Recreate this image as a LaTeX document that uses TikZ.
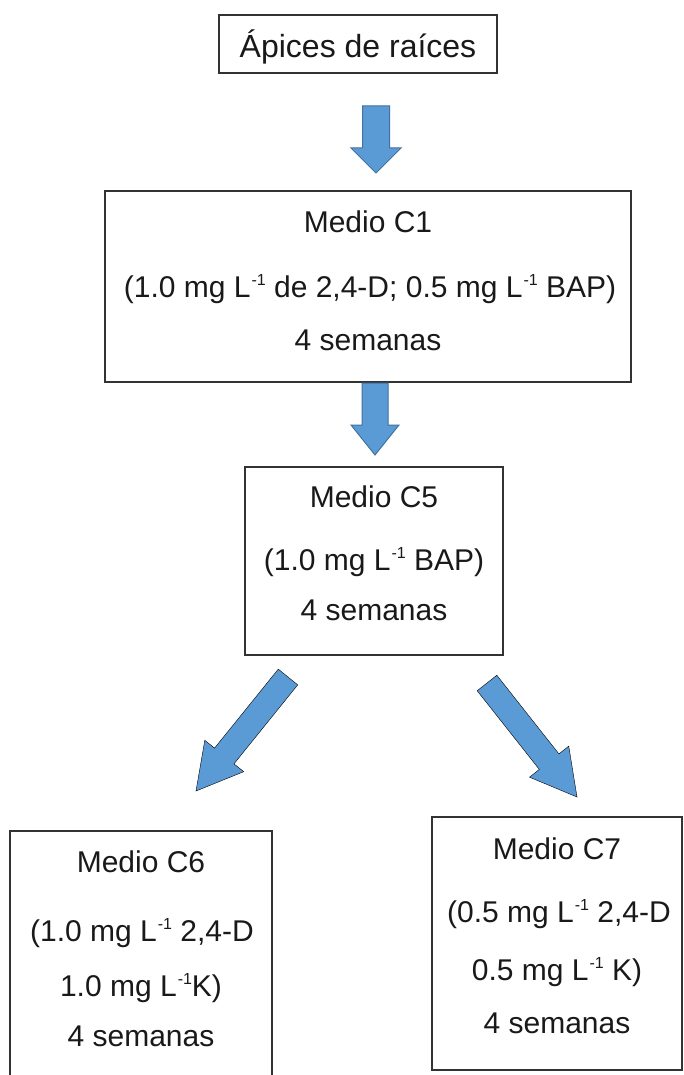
\documentclass[tikz,border=0pt]{standalone}
\usepackage{fontspec}
\setmainfont{Liberation Sans}
\usetikzlibrary{calc}
\definecolor{arrowblue}{HTML}{5B9BD5}
\definecolor{arrowedge}{HTML}{41719C}
\definecolor{boxline}{HTML}{333333}
\newcommand{\sups}[1]{\kern1pt\raisebox{12pt}{\fontsize{16}{16}\selectfont #1}}
\newcommand{\blockarrow}[6]{%
  \coordinate (#2-#3-h) at ($(#3)!#6!(#2)$);
  \draw[#1] ($(#2)!#4!90:(#3)$) -- ($(#2-#3-h)!#4!90:(#3)$) -- ($(#2-#3-h)!#5!90:(#3)$) -- (#3) -- ($(#2-#3-h)!#5!-90:(#3)$) -- ($(#2-#3-h)!#4!-90:(#3)$) -- ($(#2)!#4!-90:(#3)$) -- cycle;
}
\tikzset{
  box/.style={draw=boxline, line width=1.8pt, fill=white, inner sep=0pt, rectangle},
  lbl/.style={font=\fontsize{30}{36}\selectfont, text=black!90, inner sep=0pt, anchor=base},
  blk/.style={fill=arrowblue},
  blkedge/.style={fill=arrowblue, draw=arrowedge, line width=1pt, line join=miter},
}
\begin{document}
\begin{tikzpicture}[x=1pt,y=-1pt]
\clip (0,0) rectangle (683,1075);
\useasboundingbox (0,0) rectangle (683,1075);
\fill[white] (0,0) rectangle (683,1075);
% boxes
\node[box, minimum width=278pt, minimum height=58pt] (top) at (358,44) {};
\node[box, minimum width=526pt, minimum height=191pt] (c1) at (368,286.5) {};
\node[box, minimum width=258pt, minimum height=188pt] (c5) at (374,561) {};
\node[box, minimum width=262pt, minimum height=259pt] (c6) at (141,960.5) {};
\node[box, minimum width=250pt, minimum height=253pt] (c7) at (557,943.5) {};
% texts
\node[lbl, font=\fontsize{32}{36}\selectfont] (t0) at (358,58) {Ápices de raíces};
\node[lbl] (t1a) at (368,233) {Medio C1};
\node[lbl] (t1b) at (370,297) {(1.0 mg L\sups{-1} de 2,4-D; 0.5 mg L\sups{-1} BAP)};
\node[lbl] (t1c) at (368,350) {4 semanas};
\node[lbl] (t5a) at (374,507) {Medio C5};
\node[lbl] (t5b) at (374,570) {(1.0 mg L\sups{-1} BAP)};
\node[lbl] (t5c) at (374,620) {4 semanas};
\node[lbl] (t6a) at (141,872) {Medio C6};
\node[lbl] (t6b) at (142,941) {(1.0 mg L\sups{-1} 2,4-D};
\node[lbl] (t6c) at (141,996) {1.0 mg L\sups{-1}K)};
\node[lbl] (t6d) at (141,1046) {4 semanas};
\node[lbl] (t7a) at (557,859) {Medio C7};
\node[lbl] (t7b) at (559,922) {(0.5 mg L\sups{-1} 2,4-D};
\node[lbl] (t7c) at (557,980) {0.5 mg L\sups{-1} K)};
\node[lbl] (t7d) at (557,1033) {4 semanas};
% arrow anchors
\coordinate (a1s) at (376,106);
\coordinate (a1t) at (376,173);
\coordinate (a2s) at (375,383);
\coordinate (a2t) at (375,455);
\coordinate (a3s) at (288,677);
\coordinate (a3t) at (196,791);
\coordinate (a4s) at (487,683);
\coordinate (a4t) at (577,797);
\blockarrow{blkedge}{a1s}{a1t}{13.5pt}{25pt}{25pt}
\blockarrow{blkedge}{a2s}{a2t}{13pt}{24pt}{30pt}
\blockarrow{blk}{a3s}{a3t}{12.5pt}{25pt}{45pt}
\blockarrow{blk}{a4s}{a4t}{12.5pt}{25pt}{45pt}
\end{tikzpicture}
\end{document}
